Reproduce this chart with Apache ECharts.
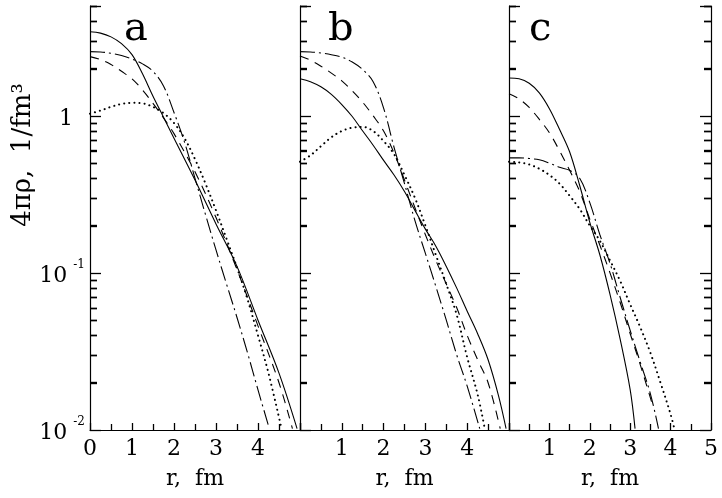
<!DOCTYPE html>
<html><head><meta charset="utf-8">
<script src="https://cdn.jsdelivr.net/npm/echarts@6/dist/echarts.min.js"></script>
<style>html,body{margin:0;padding:0;background:#fff}#c{width:722px;height:498px}</style>
</head><body><div id="c"></div>
<script>
// ---- data: [r (fm), 4*pi*rho (1/fm^3)] ----
const aSolid   = [[0,3.43],[0.25,3.36],[0.5,3.18],[0.75,2.88],[1.0,2.45],[1.25,1.85],[1.5,1.33],[1.75,0.98],[2.0,0.72],[2.5,0.39],[3.0,0.205],[3.5,0.11],[4.0,0.05],[4.5,0.023],[4.93,0.0102]];
const aDashed  = [[0,2.38],[0.25,2.28],[0.5,2.12],[0.75,1.92],[1.0,1.72],[1.25,1.46],[1.5,1.2],[1.75,0.97],[2.0,0.77],[2.5,0.44],[3.0,0.225],[3.5,0.105],[4.0,0.046],[4.5,0.02],[4.82,0.0102]];
const aDashDot = [[0,2.56],[0.25,2.55],[0.5,2.5],[0.75,2.42],[1.0,2.3],[1.25,2.14],[1.5,1.92],[1.75,1.55],[2.0,1.05],[2.25,0.68],[2.5,0.4],[2.75,0.235],[3.0,0.14],[3.25,0.085],[3.5,0.052],[3.75,0.031],[4.0,0.018],[4.27,0.0102]];
const aDotted  = [[0,1.03],[0.25,1.08],[0.5,1.14],[0.75,1.19],[1.0,1.21],[1.25,1.2],[1.5,1.14],[1.75,1.04],[2.0,0.9],[2.25,0.72],[2.5,0.53],[2.75,0.37],[3.0,0.25],[3.25,0.165],[3.5,0.108],[3.75,0.068],[4.0,0.04],[4.25,0.023],[4.55,0.0105]];

const bSolid   = [[0,1.72],[0.25,1.65],[0.5,1.53],[0.75,1.37],[1.0,1.18],[1.25,0.99],[1.5,0.8],[1.75,0.65],[2.0,0.52],[2.25,0.42],[2.5,0.33],[2.75,0.25],[3.0,0.19],[3.25,0.148],[3.5,0.11],[3.75,0.08],[4.0,0.057],[4.25,0.041],[4.5,0.028],[4.75,0.0165],[4.93,0.0102]];
const bDashed  = [[0,2.4],[0.25,2.26],[0.5,2.07],[0.75,1.87],[1.0,1.67],[1.25,1.44],[1.5,1.22],[1.75,1.0],[2.0,0.8],[2.25,0.58],[2.5,0.39],[2.75,0.26],[3.0,0.175],[3.25,0.12],[3.5,0.085],[3.75,0.06],[4.0,0.04],[4.25,0.028],[4.5,0.02],[4.79,0.0102]];
const bDashDot = [[0,2.56],[0.25,2.55],[0.5,2.51],[0.75,2.45],[1.0,2.36],[1.25,2.2],[1.5,1.97],[1.75,1.65],[2.0,1.12],[2.25,0.63],[2.5,0.37],[2.75,0.215],[3.0,0.133],[3.25,0.082],[3.5,0.05],[3.75,0.03],[4.0,0.019],[4.3,0.0102]];
const bDotted  = [[0,0.51],[0.25,0.56],[0.5,0.64],[0.75,0.73],[1.0,0.8],[1.25,0.84],[1.5,0.85],[1.75,0.8],[2.0,0.69],[2.25,0.57],[2.5,0.42],[2.75,0.3],[3.0,0.2],[3.25,0.13],[3.5,0.085],[3.75,0.054],[4.0,0.029],[4.25,0.0168],[4.42,0.0102]];

const cSolid   = [[0,1.74],[0.25,1.72],[0.5,1.61],[0.75,1.4],[1.0,1.11],[1.25,0.82],[1.5,0.59],[1.75,0.36],[2.0,0.21],[2.25,0.13],[2.5,0.073],[2.75,0.038],[3.0,0.018],[3.12,0.0102]];
const cDashed  = [[0,1.38],[0.25,1.28],[0.5,1.13],[0.75,0.95],[1.0,0.78],[1.25,0.6],[1.5,0.45],[1.75,0.33],[2.0,0.22],[2.25,0.15],[2.5,0.1],[2.75,0.065],[3.0,0.041],[3.25,0.026],[3.55,0.0145]];
const cDashDot = [[0,0.54],[0.25,0.54],[0.5,0.535],[0.75,0.525],[1.0,0.5],[1.25,0.47],[1.5,0.45],[1.75,0.4],[2.0,0.28],[2.25,0.175],[2.5,0.115],[2.75,0.07],[3.0,0.043],[3.25,0.027],[3.5,0.017],[3.7,0.0102]];
const cDotted  = [[0,0.51],[0.25,0.505],[0.5,0.49],[0.75,0.46],[1.0,0.42],[1.25,0.37],[1.5,0.31],[1.75,0.255],[2.0,0.2],[2.25,0.16],[2.5,0.12],[2.75,0.089],[3.0,0.063],[3.25,0.045],[3.5,0.031],[3.75,0.02],[4.0,0.0126],[4.08,0.0105]];

const panelLetters = ['a', 'b', 'c'];
const xTickLabels = [[0,1,2,3,4],[1,2,3,4],[1,2,3,4,5]];
const yMinorTicks = [0.02,0.03,0.04,0.05,0.06,0.07,0.08,0.09,0.2,0.3,0.4,0.5,0.6,0.7,0.8,0.9,2,3,4,5];
const xAxisTitle = 'r,  fm';
const yAxisTitle = '4πρ,  1/fm³';

// ---- chart ----
const FONT = 'DejaVu Serif';
const panelSeries = [
  [aSolid, aDashed, aDashDot, aDotted],
  [bSolid, bDashed, bDashDot, bDotted],
  [cSolid, cDashed, cDashDot, cDotted]
];
const lineStyles = [
  {color:'#000', width:1.1, type:'solid'},
  {color:'#000', width:1.1, type:[9,7]},
  {color:'#000', width:1.1, type:[15,4,2,4]},
  {color:'#000', width:2, type:[0.1,5], cap:'round'}
];
const gridBoxes = [
  {left:90, top:6, width:210, height:424},
  {left:300, top:6, width:209, height:424},
  {left:509, top:6, width:209, height:424}
];

const xAxes = [], yAxes = [], series = [];

panelLetters.forEach((p, i) => {
  xAxes.push({
    gridIndex:i, type:'value', min:0, max:5, interval:1,
    axisLine:{show:true, lineStyle:{color:'#000', width:1.2}},
    axisTick:{show:true, inside:true, length:7, lineStyle:{color:'#000', width:1.3}},
    minorTick:{show:true, splitNumber:2, length:6, lineStyle:{color:'#000', width:1.3}},
    splitLine:{show:false},
    axisLabel:{
      margin:8, color:'#000', fontFamily:FONT, fontSize:22,
      formatter: v => xTickLabels[i].indexOf(Math.round(v)) >= 0 ? String(Math.round(v)) : ''
    },
    name: xAxisTitle, nameLocation:'middle', nameGap:38,
    nameTextStyle:{color:'#000', fontFamily:FONT, fontSize:22}
  });
  yAxes.push({
    gridIndex:i, type:'log', min:0.01, max:5, position:'left',
    axisLine:{show:true, lineStyle:{color:'#000', width:1.2}},
    axisTick:{show:true, inside:true, length:11, lineStyle:{color:'#000', width:1.3}},
    splitLine:{show:false},
    axisLabel:{
      show: i === 0, margin:5, color:'#000', fontFamily:FONT,
      formatter: v => {
        const l = Math.log10(v), e = Math.round(l);
        if (Math.abs(l - e) > 0.01) return '';
        if (e === 0) return '{one|1}';
        return '{b|10}{s|-' + (-e) + '}';
      },
      rich:{
        one:{fontFamily:FONT, fontSize:22, color:'#000', padding:[6,12,0,0]},
        b:{fontFamily:FONT, fontSize:22, color:'#000', padding:[6,0,0,0]},
        s:{fontFamily:FONT, fontSize:12, color:'#000', verticalAlign:'top', padding:[0,0,0,6]}
      }
    }
  });
});
yAxes.push({
  gridIndex:2, type:'log', min:0.01, max:5, position:'right',
  axisLine:{show:true, lineStyle:{color:'#000', width:1.2}},
  axisTick:{show:true, inside:true, length:11, lineStyle:{color:'#000', width:1.3}},
  axisLabel:{show:false}, splitLine:{show:false}
});
// minor log ticks: extra axes whose ticks sit at the yMinorTicks values
[[0,'left'],[1,'left'],[2,'left'],[2,'right']].forEach(([g, pos]) => {
  yAxes.push({
    gridIndex:g, type:'log', min:0.01, max:5, position:pos,
    axisLine:{show:false}, splitLine:{show:false},
    axisLabel:{show:true, formatter:() => ''},
    axisTick:{show:true, inside:true, length:7, customValues:yMinorTicks, lineStyle:{color:'#000', width:1.4}}
  });
});

panelLetters.forEach((p, i) => {
  panelSeries[i].forEach((d, k) => {
    series.push({
      type:'line', xAxisIndex:i, yAxisIndex:i, data:d,
      showSymbol:false, smooth:0.35, silent:true,
      lineStyle: lineStyles[k]
    });
  });
});

const baseGraphics = [
  {id:'la', type:'text', left:124, top:10, style:{text:'a', font:'40px "DejaVu Serif"', fill:'#000'}},
  {id:'lb', type:'text', left:328, top:10, style:{text:'b', font:'40px "DejaVu Serif"', fill:'#000'}},
  {id:'lc', type:'text', left:529, top:10, style:{text:'c', font:'40px "DejaVu Serif"', fill:'#000'}},
  {id:'yt', type:'text', x:23, y:155, rotation:Math.PI/2,
   style:{text:yAxisTitle, font:'26px "DejaVu Serif"', fill:'#000', align:'center', verticalAlign:'middle'}}
];

const chart = echarts.init(document.getElementById('c'), null, {renderer:'canvas'});
chart.setOption({
  animation:false, backgroundColor:'#fff',
  grid:gridBoxes, xAxis:xAxes, yAxis:yAxes, series:series, graphic:baseGraphics
});

// also draw the minor ticks as graphic lines placed through the library's axis scales
const tickGraphics = [];
[[0,0,1],[1,0,1],[2,0,1],[2,5,-1]].forEach(([gi, xv, dir], si) => {
  yMinorTicks.forEach((v, ti) => {
    const pt = chart.convertToPixel({xAxisIndex:gi, yAxisIndex:gi}, [xv, v]);
    if (!pt || !isFinite(pt[0]) || !isFinite(pt[1])) return;
    const y = Math.round(pt[1]) + 0.5;
    tickGraphics.push({
      id:'t' + si + '_' + ti, type:'line', silent:true, z:50,
      shape:{x1:pt[0], y1:y, x2:pt[0] + dir * 7, y2:y},
      style:{stroke:'#000', lineWidth:1.4}
    });
  });
});
chart.setOption({graphic: baseGraphics.concat(tickGraphics)});
</script></body></html>
